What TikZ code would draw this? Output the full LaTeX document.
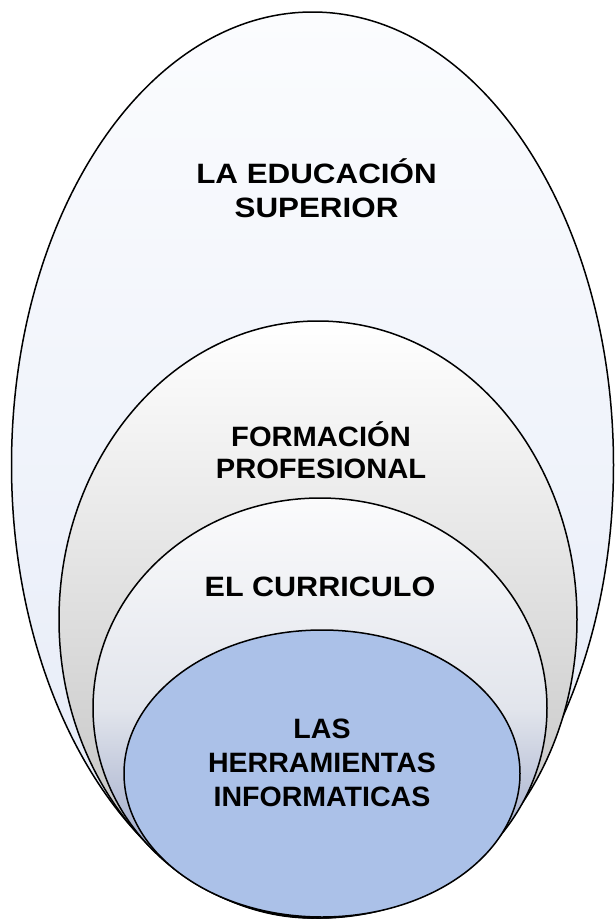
\documentclass[tikz,border=0pt]{standalone}
\usepackage{fontspec}
\setmainfont{Liberation Sans}
\newfontfamily\fA{Liberation Sans}[FakeStretch=1.12]
\newfontfamily\fB{Liberation Sans}[FakeStretch=1.04]
\newfontfamily\fC{Liberation Sans}[FakeStretch=1.09]
\newfontfamily\fD{Liberation Sans}[FakeStretch=1.02]
\usetikzlibrary{shapes.geometric}
\definecolor{outerTop}{HTML}{FBFCFE}
\definecolor{outerBot}{HTML}{E4EAF7}
\definecolor{formTop}{HTML}{FFFFFF}
\definecolor{formBot}{HTML}{BCBCBC}
\definecolor{currTop}{HTML}{FBFBFC}
\definecolor{currMid}{HTML}{E2E5EC}
\definecolor{currBot}{HTML}{7F8EBA}
\definecolor{blueFill}{HTML}{ABC1E8}
\tikzset{
  ring/.style={ellipse, draw=black, line width=1.5pt, inner sep=0pt},
  lbl/.style={align=center, text=black, inner sep=0pt}
}
\begin{document}
\begin{tikzpicture}[x=1pt,y=-1pt]
\useasboundingbox (0,0) rectangle (614,919);
\node[ring, top color=outerTop, bottom color=outerBot, minimum width=602, minimum height=906] (outer) at (312.5,465) {};
\node[ring, top color=formTop, bottom color=formBot, minimum width=518, minimum height=597] (form) at (318,619.5) {};
\node[ring, top color=currTop, bottom color=currBot, middle color=currMid, minimum width=454, minimum height=420] (curr) at (320,708) {};
\node[ring, fill=blueFill, minimum width=396, minimum height=287] (blue) at (322,773.5) {};
\node[lbl, font=\fA\bfseries\fontsize{28}{34}\selectfont] (t1) at (316.5,188) {LA EDUCACIÓN\\SUPERIOR};
\node[lbl, font=\fB\bfseries\fontsize{28}{32}\selectfont] (t2) at (321,450) {FORMACIÓN\\PROFESIONAL};
\node[lbl, font=\fC\bfseries\fontsize{28}{34}\selectfont] (t3) at (320,587) {EL CURRICULO};
\node[lbl, font=\fD\bfseries\fontsize{28}{34}\selectfont] (t4) at (322,763) {LAS\\HERRAMIENTAS\\INFORMATICAS};
\end{tikzpicture}
\end{document}
